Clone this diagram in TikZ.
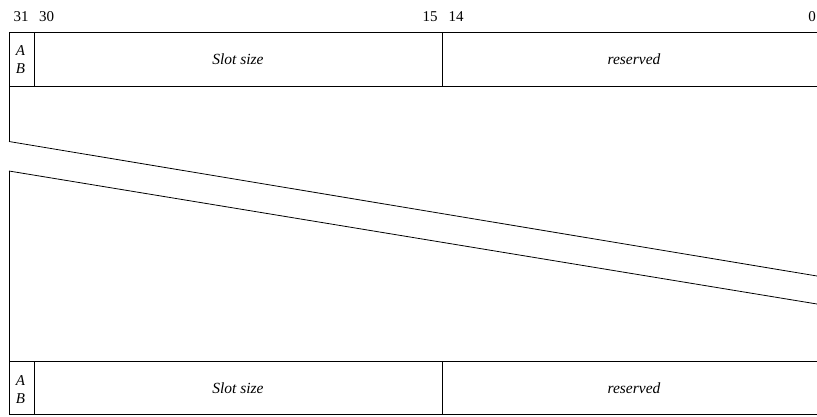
\documentclass[tikz,border=0pt]{standalone}
\usepackage{fontspec}
\setmainfont{Liberation Serif}
\begin{document}
\begin{tikzpicture}[x=1pt,y=-1pt,
  rule/.style={line width=0.8pt,black},
  wave/.style={line width=0.8pt,black},
  lbl/.style={inner sep=0pt,font=\fontsize{15}{18}\selectfont},
  fld/.style={inner sep=0pt,font=\fontsize{15.5}{18}\selectfont\itshape},
  ab/.style={inner sep=0pt,align=center,font=\fontsize{15}{18}\selectfont\itshape}]
\useasboundingbox (0,0) rectangle (817,416);
% bit numbers
\node[lbl] (b31) at (21,16.5) {31};
\node[lbl] (b30) at (46.5,16.5) {30};
\node[lbl] (b15) at (430,16.5) {15};
\node[lbl] (b14) at (456,16.5) {14};
\node[lbl] (b0) at (812,16.5) {0};
% top word
\draw[rule] (817,32) -- (9,32) -- (9,141.5);
\draw[rule] (9,86) -- (817,86);
\draw[rule] (34,32) -- (34,86);
\draw[rule] (442.5,32) -- (442.5,86);
\node[ab] (abtop) at (20.5,60) {A\\B};
\node[fld] (slottop) at (238,59.5) {Slot size};
\node[fld] (restop) at (634,59.5) {reserved};
% break lines
\coordinate (w1a) at (9,141.5);
\coordinate (w1b) at (817,276);
\coordinate (w2a) at (9,171);
\coordinate (w2b) at (817,304);
\draw[wave] (w1a) -- (w1b);
\draw[wave] (w2a) -- (w2b);
% bottom word
\draw[rule] (9,171) -- (9,415);
\draw[rule] (9,361) -- (817,361);
\draw[rule] (9,414.5) -- (817,414.5);
\draw[rule] (34,361) -- (34,415);
\draw[rule] (442.5,361) -- (442.5,415);
\node[ab] (abbot) at (20.5,389.5) {A\\B};
\node[fld] (slotbot) at (238,388.5) {Slot size};
\node[fld] (resbot) at (634,388.5) {reserved};
\end{tikzpicture}
\end{document}
